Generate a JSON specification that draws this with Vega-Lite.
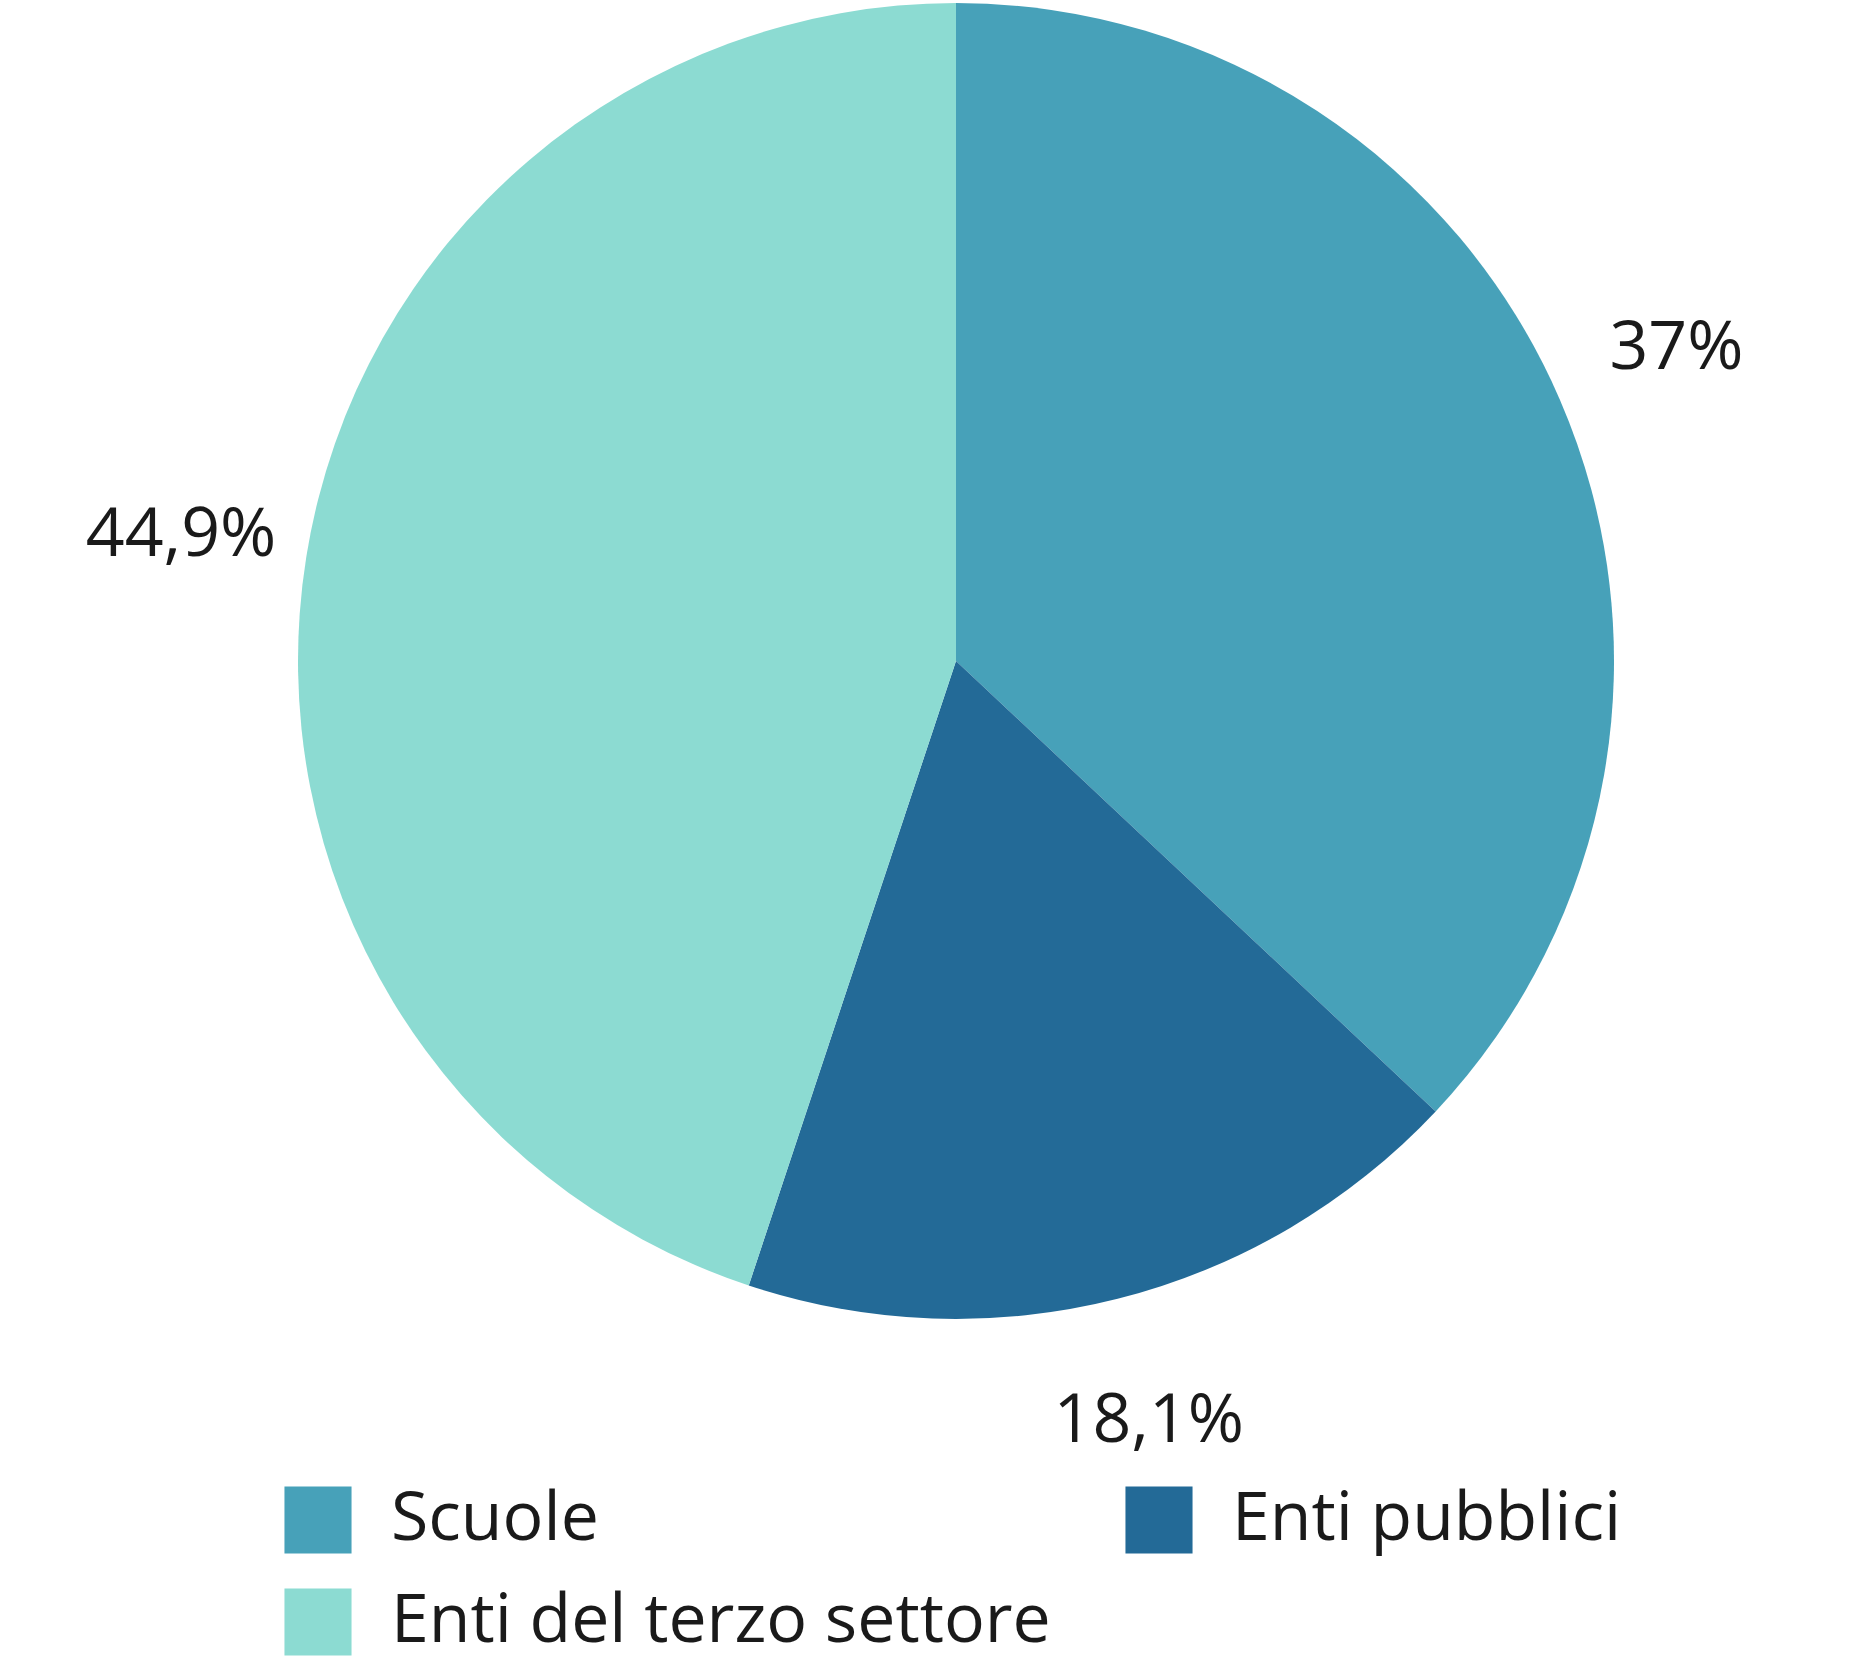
{
  "$schema": "https://vega.github.io/schema/vega-lite/v6.json",
  "autosize": "none",
  "width": 1798,
  "height": 1322,
  "padding": {"left": 57, "top": 0, "right": 0, "bottom": 342},
  "background": "white",
  "config": {"view": {"stroke": null}, "font": "Open Sans"},
  "data": {
    "values": [
      {"categoria": "Scuole", "quota": 37.0, "etichetta": "37%", "ordine": 1},
      {"categoria": "Enti pubblici", "quota": 18.1, "etichetta": "18,1%", "ordine": 2},
      {"categoria": "Enti del terzo settore", "quota": 44.9, "etichetta": "44,9%", "ordine": 3}
    ]
  },
  "encoding": {
    "theta": {"field": "quota", "type": "quantitative", "stack": true},
    "order": {"field": "ordine", "type": "quantitative"}
  },
  "layer": [
    {
      "mark": {"type": "arc", "outerRadius": 658, "stroke": null},
      "encoding": {
        "color": {
          "field": "categoria",
          "type": "nominal",
          "scale": {
            "domain": ["Scuole", "Enti pubblici", "Enti del terzo settore"],
            "range": ["#47a1b9", "#236a97", "#8cdbd2"]
          },
          "legend": {
            "title": null,
            "orient": "none",
            "legendX": 227,
            "legendY": 1486,
            "direction": "horizontal",
            "columns": 2,
            "columnPadding": 74,
            "rowPadding": 34,
            "symbolType": "square",
            "symbolSize": 4500,
            "symbolStrokeWidth": 0,
            "symbolOpacity": 1,
            "labelFont": "Open Sans",
            "labelFontSize": 68,
            "labelColor": "#1a1a1a",
            "labelOffset": 39,
            "labelLimit": 2000
          }
        }
      }
    },
    {
      "mark": {"type": "text", "radius": 785, "fontSize": 68, "font": "Open Sans", "fill": "#1a1a1a", "align": "center", "baseline": "middle"},
      "encoding": {
        "detail": {"field": "categoria", "type": "nominal"},
        "text": {"field": "etichetta", "type": "nominal"}
      }
    }
  ]
}
